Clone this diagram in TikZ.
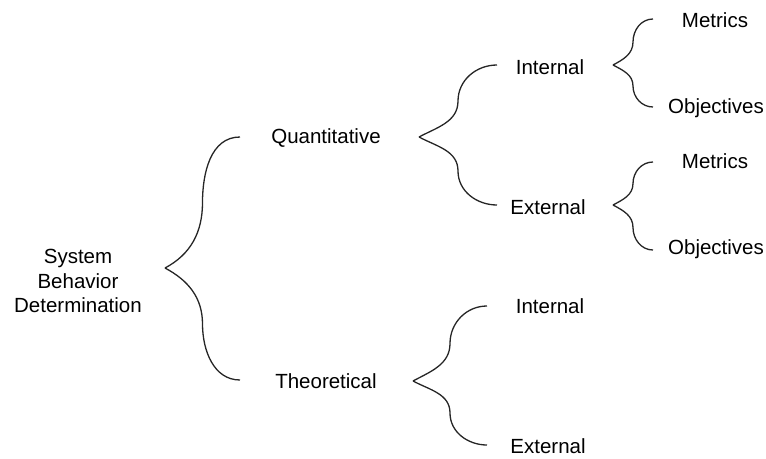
\documentclass[tikz,border=0pt]{standalone}
\usepackage{fontspec}
\setmainfont{Liberation Sans}
\usetikzlibrary{calc}
\tikzset{
  lbl/.style={inner sep=0pt, font=\fontsize{20.5}{24.5}\selectfont, align=center, text=black},
  bracepath/.style={draw=black!85, line width=1.3pt},
}
\newcommand\mybrace[3]{%
  \path[bracepath] (#1) to[out=28,in=-90] ($(#1)!.5!(#2)$) to[out=90,in=180] (#2);
  \path[bracepath] (#1) to[out=-28,in=90] ($(#1)!.5!(#3)$) to[out=-90,in=180] (#3);
}
\begin{document}
\begin{tikzpicture}[x=1pt,y=-1pt]
\useasboundingbox (0,0) rectangle (766,458);
% nodes
\node[lbl] (sbd) at (78,281) {System\\Behavior\\Determination};
\node[lbl] (quant) at (326,138) {Quantitative};
\node[lbl] (theo) at (326,381) {Theoretical};
\node[lbl] (qint) at (550,67) {Internal};
\node[lbl] (qext) at (548,207) {External};
\node[lbl] (tint) at (550,306) {Internal};
\node[lbl] (text) at (548,446) {External};
\node[lbl] (m1) at (715,20) {Metrics};
\node[lbl] (o1) at (716,108) {Objectives};
\node[lbl] (m2) at (715,161) {Metrics};
\node[lbl] (o2) at (716,249) {Objectives};
% brace coordinates
\coordinate (b1t) at (165,268);
\coordinate (b1a) at (240,137);
\coordinate (b1b) at (240,380);
\coordinate (b2t) at (419,137);
\coordinate (b2a) at (497,65);
\coordinate (b2b) at (497,205);
\coordinate (b3t) at (413,381);
\coordinate (b3a) at (487,306);
\coordinate (b3b) at (487,445);
\coordinate (b4t) at (613,65);
\coordinate (b4a) at (653,19);
\coordinate (b4b) at (653,107);
\coordinate (b5t) at (613,205);
\coordinate (b5a) at (653,162);
\coordinate (b5b) at (653,250);
\mybrace{b1t}{b1a}{b1b}
\mybrace{b2t}{b2a}{b2b}
\mybrace{b3t}{b3a}{b3b}
\mybrace{b4t}{b4a}{b4b}
\mybrace{b5t}{b5a}{b5b}
\end{tikzpicture}
\end{document}
